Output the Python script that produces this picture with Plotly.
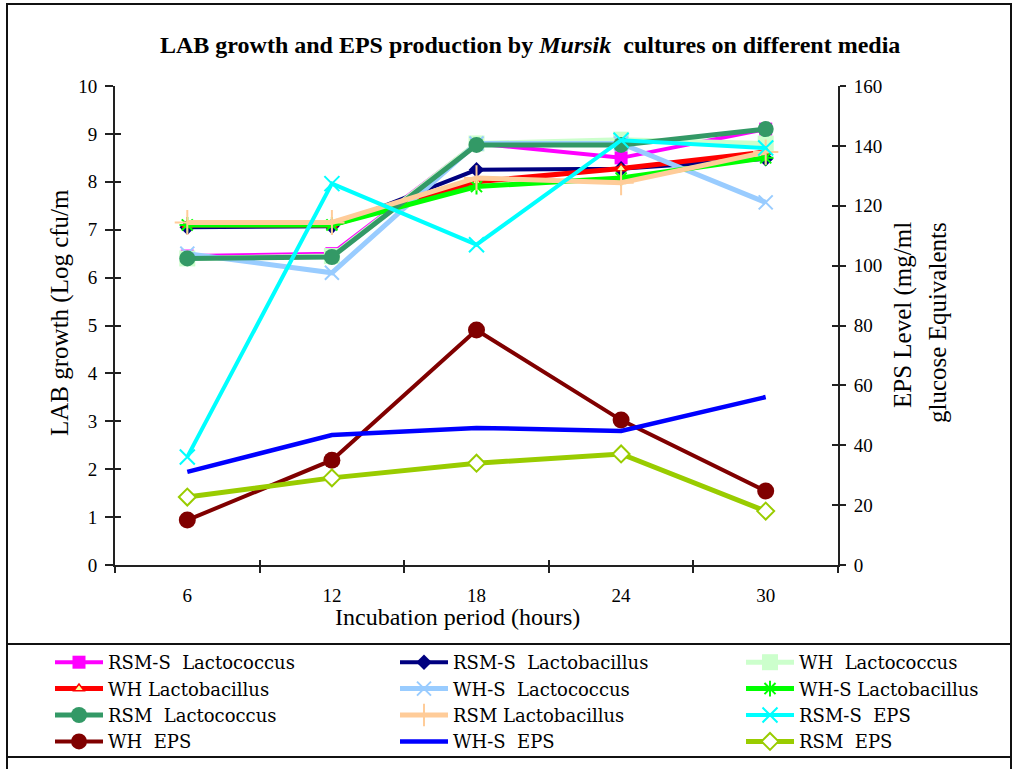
import plotly.graph_objects as go

# Incubation times (hours)
hours = ["6", "12", "18", "24", "30"]

# LAB growth, Log cfu/ml (left axis)
rsms_lactococcus = [6.45, 6.5, 8.8, 8.5, 9.1]
rsms_lactobacillus = [7.05, 7.07, 8.25, 8.27, 8.48]
wh_lactococcus = [6.4, 6.45, 8.8, 8.88, 8.8]
wh_lactobacillus = [7.1, 7.1, 8.0, 8.28, 8.62]
whs_lactococcus = [6.5, 6.1, 8.8, 8.8, 7.57]
whs_lactobacillus = [7.1, 7.1, 7.9, 8.08, 8.5]
rsm_lactococcus = [6.4, 6.43, 8.77, 8.77, 9.1]
rsm_lactobacillus = [7.15, 7.15, 8.08, 7.98, 8.62]

# EPS level, mg/ml glucose equivalents (right axis)
rsms_eps = [36.1, 127.4, 107.0, 141.9, 139.3]
wh_eps = [15.0, 35.0, 78.5, 48.4, 24.7]
whs_eps = [31.1, 43.4, 45.8, 44.8, 56.1]
rsm_eps = [22.7, 29.1, 34.0, 37.1, 18.0]

FONT = "Liberation Serif, Times New Roman, serif"
LEGEND_FONT = "DejaVu Serif, serif"
NB = "\u00a0"

W, H = 1013, 769
L, R, T, B = 115, 175, 86, 204
PW, PH = W - L - R, H - T - B


def px_x(px):
    return (px - L) / PW


def px_y(py):
    return (H - B - py) / PH


series = [
    (f"RSM-S{NB} Lactococcus", rsms_lactococcus, "y",
     dict(color="#ff00ff", width=4), dict(symbol="square", size=13, color="#ff00ff")),
    (f"RSM-S{NB} Lactobacillus", rsms_lactobacillus, "y",
     dict(color="#000080", width=4), dict(symbol="diamond", size=12, color="#000080")),
    (f"WH{NB} Lactococcus", wh_lactococcus, "y",
     dict(color="#ccffcc", width=5), dict(symbol="square", size=16, color="#ccffcc")),
    ("WH Lactobacillus", wh_lactobacillus, "y",
     dict(color="#ff0000", width=5),
     dict(symbol="triangle-up", size=9, color="#ffff99", line=dict(color="#ff0000", width=1.5))),
    (f"WH-S{NB} Lactococcus", whs_lactococcus, "y",
     dict(color="#99ccff", width=5), dict(symbol="x-thin", size=14, line=dict(color="#99ccff", width=2))),
    ("WH-S Lactobacillus", whs_lactobacillus, "y",
     dict(color="#00ff00", width=5), dict(symbol="asterisk", size=13, line=dict(color="#00ff00", width=2))),
    (f"RSM{NB} Lactococcus", rsm_lactococcus, "y",
     dict(color="#339966", width=5), dict(symbol="circle", size=16, color="#339966")),
    ("RSM Lactobacillus", rsm_lactobacillus, "y",
     dict(color="#ffcc99", width=5), dict(symbol="cross-thin", size=18, line=dict(color="#ffcc99", width=2))),
    (f"RSM-S{NB} EPS", rsms_eps, "y2",
     dict(color="#00ffff", width=4), dict(symbol="x-thin", size=15, line=dict(color="#00ffff", width=2))),
    (f"WH{NB} EPS", wh_eps, "y2",
     dict(color="#800000", width=4), dict(symbol="circle", size=17, color="#800000")),
    (f"WH-S{NB} EPS", whs_eps, "y2",
     dict(color="#0000ff", width=4.5), None),
    (f"RSM{NB} EPS", rsm_eps, "y2",
     dict(color="#99cc00", width=5),
     dict(symbol="diamond", size=13, color="#ffffff", line=dict(color="#99cc00", width=2))),
]

# Legend laid out in three columns, filled row by row
legend_ids = ["legend", "legend2", "legend3"]

fig = go.Figure()
for i, (name, vals, yax, line, marker) in enumerate(series):
    fig.add_trace(go.Scatter(
        x=hours, y=vals, name=name, yaxis=yax,
        mode="lines+markers" if marker else "lines",
        line=line, marker=marker if marker else None,
        legend=legend_ids[i % 3],
    ))

# Empty traces that host the inner halves of the crossing tick marks
for xa, ya in (("x", "y3"), ("x", "y4"), ("x2", "y")):
    fig.add_trace(go.Scatter(x=[], y=[], xaxis=xa, yaxis=ya,
                             showlegend=False, hoverinfo="skip"))

tick_font = dict(family=FONT, size=19, color="black")
AX = "#222"


def legend_at(px):
    return dict(
        orientation="v", x=px_x(px), y=px_y(644), xanchor="left", yanchor="top",
        itemwidth=48, font=dict(family=LEGEND_FONT, size=18, color="black"),
        bgcolor="rgba(0,0,0,0)", traceorder="normal",
    )


fig.update_layout(
    width=W, height=H,
    margin=dict(l=L, r=R, t=T, b=B, autoexpand=False),
    paper_bgcolor="white", plot_bgcolor="white",
    font=dict(family=FONT, color="black"),
    showlegend=True,
    xaxis=dict(
        type="category", range=[-0.5, 4.5], showgrid=False, zeroline=False,
        showline=True, linecolor=AX, linewidth=2,
        ticks="outside", ticklen=6, tickwidth=2, tickcolor=AX,
        tickson="boundaries", tickfont=tick_font, ticklabelstandoff=12,
    ),
    xaxis2=dict(
        overlaying="x", anchor="y", side="bottom", range=[-0.5, 4.5],
        tickmode="array", tickvals=[-0.5, 0.5, 1.5, 2.5, 3.5, 4.5],
        showticklabels=False, showgrid=False, zeroline=False, showline=False,
        ticks="inside", ticklen=5, tickwidth=2, tickcolor=AX,
    ),
    yaxis=dict(
        range=[0, 10], dtick=1, showgrid=False, zeroline=False,
        showline=True, linecolor=AX, linewidth=2,
        ticks="outside", ticklen=8, tickwidth=2, tickcolor=AX,
        tickfont=tick_font, ticklabelstandoff=4,
    ),
    yaxis2=dict(
        range=[0, 160], dtick=20, overlaying="y", side="right", anchor="x",
        showgrid=False, zeroline=False,
        showline=True, linecolor=AX, linewidth=2,
        ticks="outside", ticklen=6, tickwidth=2, tickcolor=AX,
        tickfont=tick_font, ticklabelstandoff=4,
    ),
    yaxis3=dict(
        range=[0, 10], dtick=1, overlaying="y", side="left", anchor="x",
        showticklabels=False, showgrid=False, zeroline=False, showline=False,
        ticks="inside", ticklen=6, tickwidth=2, tickcolor=AX,
    ),
    yaxis4=dict(
        range=[0, 160], dtick=20, overlaying="y", side="right", anchor="x",
        showticklabels=False, showgrid=False, zeroline=False, showline=False,
        ticks="inside", ticklen=6, tickwidth=2, tickcolor=AX,
    ),
    legend=legend_at(50),
    legend2=legend_at(395),
    legend3=legend_at(741),
)

annotations = [
    dict(text="<b>LAB growth and EPS production by <i>Mursik</i>" + NB + " cultures on different media</b>",
         x=px_x(530), y=px_y(45), font=dict(family=FONT, size=24)),
    dict(text="LAB growth (Log cfu/m", x=px_x(60), y=px_y(313), textangle=-90,
         font=dict(family=FONT, size=25)),
    dict(text="EPS Level (mg/ml", x=px_x(903), y=px_y(315), textangle=-90,
         font=dict(family=FONT, size=25)),
    dict(text="glucose Equivalents", x=px_x(937), y=px_y(323), textangle=-90,
         font=dict(family=FONT, size=25)),
    dict(text="Incubation period (hours)", x=px_x(457), y=px_y(617),
         font=dict(family=FONT, size=24)),
]
for a in annotations:
    a.update(xref="paper", yref="paper", showarrow=False, xanchor="center", yanchor="middle")
fig.update_layout(annotations=annotations)

frame = dict(color="#111", width=2)
fig.update_layout(shapes=[
    dict(type="rect", xref="paper", yref="paper",
         x0=px_x(7), x1=px_x(1011), y0=px_y(4), y1=px_y(775), line=frame),
    dict(type="line", xref="paper", yref="paper",
         x0=px_x(7), x1=px_x(1011), y0=px_y(644), y1=px_y(644), line=frame),
    dict(type="line", xref="paper", yref="paper",
         x0=px_x(7), x1=px_x(1011), y0=px_y(757), y1=px_y(757), line=frame),
])

fig.write_html("out.html")
